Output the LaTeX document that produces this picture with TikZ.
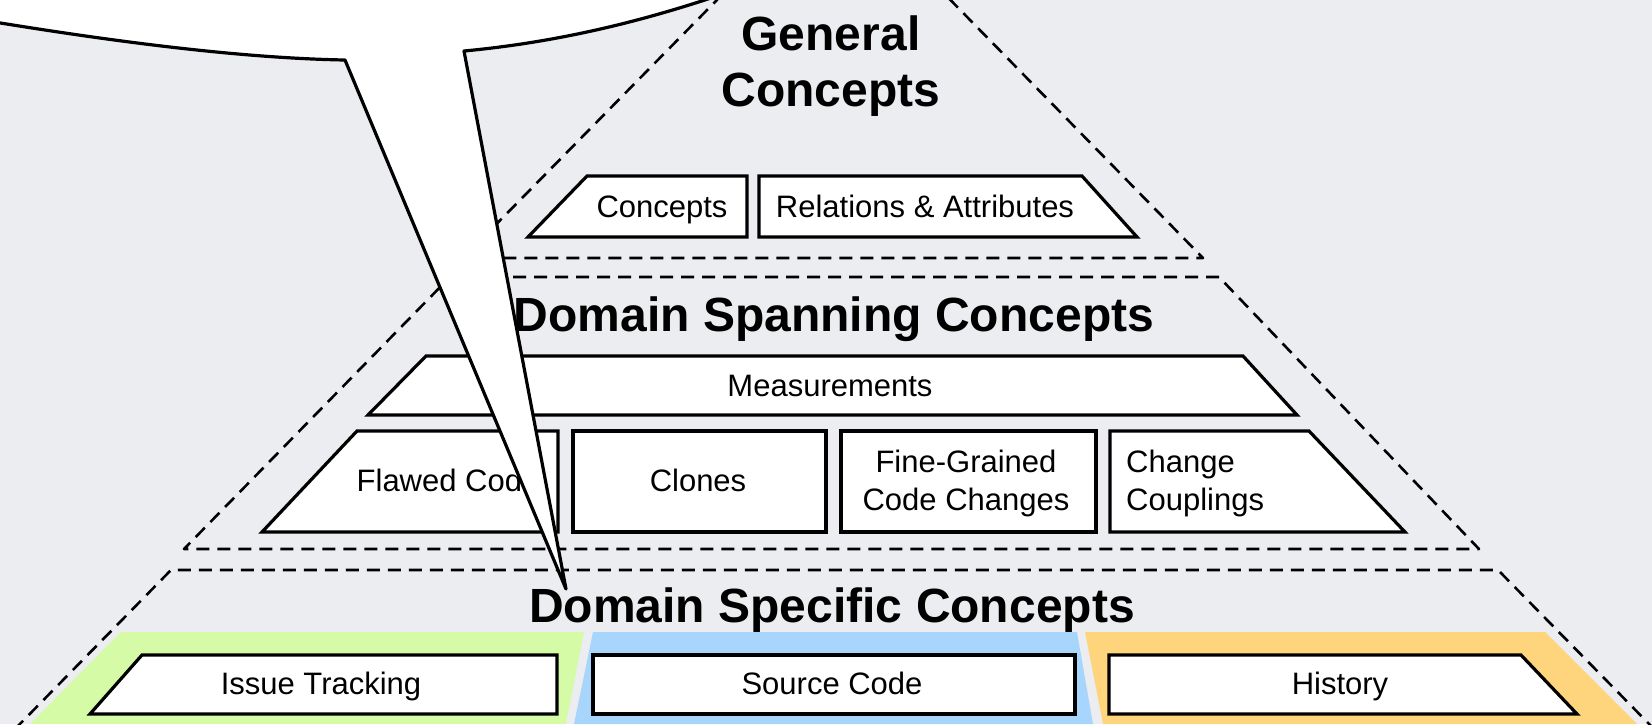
\documentclass[tikz,border=0pt]{standalone}
\usepackage{fontspec}
\setmainfont{Liberation Sans}
\definecolor{bg}{RGB}{236,237,240}
\definecolor{bandgreen}{RGB}{214,251,167}
\definecolor{bandblue}{RGB}{168,213,252}
\definecolor{bandorange}{RGB}{254,213,125}
\begin{document}
\begin{tikzpicture}[x=1pt,y=-1pt,
  tier/.style={dashed, dash pattern=on 13pt off 8pt, line width=2.6pt, line join=round},
  slab/.style={draw=black, fill=white, line width=3.2pt, line join=miter},
  heading/.style={font=\bfseries\fontsize{48}{55}\selectfont, inner sep=0pt, anchor=base},
  boxtext/.style={font=\fontsize{31}{38}\selectfont, inner sep=0pt, anchor=base},
  balloon/.style={line width=3.2pt, line join=round}]
\useasboundingbox (0,0) rectangle (1652,724);
\clip (0,0) rectangle (1652,724);
\fill[bg] (0,0) rectangle (1652,724);

% coloured bands under the bottom row
\fill[bandgreen]  (121,632) -- (584,632) -- (566,724) -- (30,724) -- cycle;
\fill[bandblue]   (593,632) -- (1077,632) -- (1093,724) -- (574,724) -- cycle;
\fill[bandorange] (1085,632) -- (1545,632) -- (1637,724) -- (1103,724) -- cycle;

% dashed outlines of the three tiers
\draw[tier] (463,258) -- (834,-119) -- (1203,258) -- cycle;
\draw[tier] (450,277) -- (1219,277) -- (1479,549) -- (184,549) -- cycle;
\draw[tier] (14,730) -- (171,570) -- (1498,570) -- (1655,730);

% tier headings
\node[heading] (gen1) at (831,50) {General};
\node[heading] (gen2) at (831,106) {Concepts};
\node[heading] (span) at (834,331) {Domain Spanning Concepts};
\node[heading] (spec) at (832,622) {Domain Specific Concepts};

% top tier boxes
\draw[slab] (587,176) -- (747,176) -- (747,237) -- (528,237) -- cycle;
\draw[slab] (759,176) -- (1082,176) -- (1137,237) -- (759,237) -- cycle;
\node[boxtext] (concepts) at (662,217) {Concepts};
\node[boxtext] (relations) at (925,217) {Relations \& Attributes};

% middle tier boxes
\draw[slab] (426,356) -- (1243,356) -- (1297,415) -- (368,415) -- cycle;
\node[boxtext] (measure) at (830,396) {Measurements};
\draw[slab] (357,431) -- (558,431) -- (558,532) -- (262,532) -- cycle;
\draw[slab] (573,431) -- (826,431) -- (826,532) -- (573,532) -- cycle;
\draw[slab] (841,431) -- (1096,431) -- (1096,532) -- (841,532) -- cycle;
\draw[slab] (1110,431) -- (1309,431) -- (1405,532) -- (1110,532) -- cycle;
\node[boxtext] (flawed) at (448,491) {Flawed Code};
\node[boxtext] (clones) at (698,491) {Clones};
\node[boxtext] (fg1) at (966,472) {Fine-Grained};
\node[boxtext] (fg2) at (966,510) {Code Changes};
\node[boxtext, anchor=base west] (cc1) at (1126,472) {Change};
\node[boxtext, anchor=base west] (cc2) at (1126,510) {Couplings};

% bottom tier boxes
\draw[slab] (142,655) -- (557,655) -- (557,714) -- (90,714) -- cycle;
\draw[slab] (593,655) -- (1075,655) -- (1075,714) -- (593,714) -- cycle;
\draw[slab] (1109,655) -- (1521,655) -- (1577,714) -- (1109,714) -- cycle;
\node[boxtext] (issue) at (321,694) {Issue Tracking};
\node[boxtext] (source) at (832,694) {Source Code};
\node[boxtext] (history) at (1340,694) {History};

% speech balloon with its tail, lying over everything
\coordinate (tl) at (345,60);
\coordinate (tip) at (566,589);
\coordinate (tr) at (464,51);
\fill[white] (-30,18) .. controls (90,38) and (230,58) .. (tl) -- (tip) -- (tr)
  .. controls (560,42) and (650,20) .. (740,-12) -- (740,-80) -- (-30,-80) -- cycle;
\draw[balloon] (-30,18) .. controls (90,38) and (230,58) .. (tl) -- (tip) -- (tr)
  .. controls (560,42) and (650,20) .. (740,-12);
\end{tikzpicture}
\end{document}
